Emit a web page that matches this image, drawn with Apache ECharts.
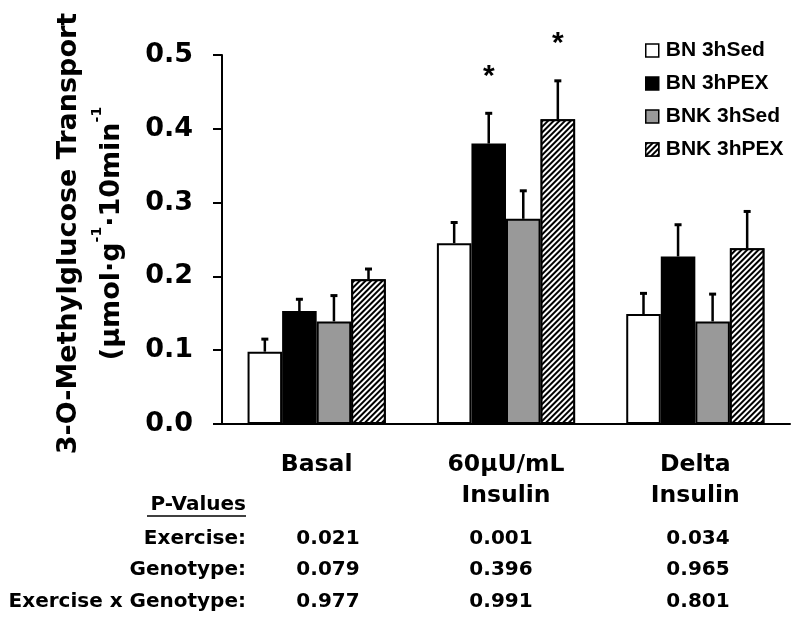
<!DOCTYPE html>
<html>
<head>
<meta charset="utf-8">
<script src="https://cdn.jsdelivr.net/npm/echarts@6/dist/echarts.min.js"></script>
<style>
html,body{margin:0;padding:0;background:#fff;}
#chart{width:800px;height:626px;}
</style>
</head>
<body>
<div id="chart"></div>
<script>
// ---- data ----
const categories = ['Basal', '60µU/mL\nInsulin', 'Delta\nInsulin'];
const seriesNames = ['BN 3hSed', 'BN 3hPEX', 'BNK 3hSed', 'BNK 3hPEX'];
const bnSed     = [0.098, 0.245, 0.149];
const bnPex     = [0.153, 0.380, 0.227];
const bnkSed    = [0.139, 0.278, 0.139];
const bnkPex    = [0.196, 0.413, 0.238];
const bnSedErr  = [0.017, 0.028, 0.028];
const bnPexErr  = [0.016, 0.041, 0.043];
const bnkSedErr = [0.035, 0.038, 0.037];
const bnkPexErr = [0.014, 0.052, 0.050];
const bnSedSig  = [0, 0, 0];
const bnPexSig  = [0, 1, 0];
const bnkSedSig = [0, 0, 0];
const bnkPexSig = [0, 1, 0];
const yTicks = [0, 0.1, 0.2, 0.3, 0.4, 0.5];
const pHeader = 'P-Values';
const pRowLabels = ['Exercise:', 'Genotype:', 'Exercise x Genotype:'];
const pBasal   = ['0.021', '0.079', '0.977'];
const pInsulin = ['0.001', '0.396', '0.991'];
const pDelta   = ['0.034', '0.965', '0.801'];

// ---- styling ----
const values = [bnSed, bnPex, bnkSed, bnkPex];
const errs = [bnSedErr, bnPexErr, bnkSedErr, bnkPexErr];
const sigs = [bnSedSig, bnPexSig, bnkSedSig, bnkPexSig];
const CAT_GAP = 0.27;
const hatch = {
  symbol: 'rect', symbolSize: 1, dashArrayX: [1, 0], dashArrayY: [1.3, 1.7],
  rotation: -Math.PI / 4, color: '#000', backgroundColor: '#fff'
};
const fills = [
  {color: '#ffffff'},
  {color: '#000000'},
  {color: '#999999'},
  {color: '#ffffff', decal: hatch}
];
const DV = '"DejaVu Sans", sans-serif';
const LS = '"Liberation Sans", Arial, sans-serif';

const barSeries = seriesNames.map((n, si) => ({
  type: 'bar', name: n, data: values[si],
  barGap: '0%', barCategoryGap: (CAT_GAP * 100) + '%',
  itemStyle: Object.assign({borderColor: '#000', borderWidth: 2}, fills[si]),
  z: 2
}));

const errSeries = seriesNames.map((n, si) => ({
  type: 'custom', name: n + ' err',
  data: values[si].map((v, i) => [i, v, errs[si][i], sigs[si][i]]),
  encode: {x: 0, y: 1},
  z: 3, clip: false, silent: true,
  renderItem: function (params, api) {
    const ci = api.value(0), v = api.value(1), e = api.value(2), s = api.value(3);
    const band = api.size([1, 0])[0];
    const bw = band * (1 - CAT_GAP) / 4;
    const cx = api.coord([ci, 0])[0] + (si - 1.5) * bw;
    const yTop = api.coord([ci, v])[1];
    const yErr = api.coord([ci, v + e])[1];
    const children = [
      {type: 'line', shape: {x1: cx, y1: yTop, x2: cx, y2: yErr}, style: {stroke: '#000', lineWidth: 2.5}},
      {type: 'rect', shape: {x: cx - 3.5, y: yErr - 1.5, width: 7, height: 3}, style: {fill: '#000'}}
    ];
    if (s) {
      children.push({type: 'text', style: {text: '*', x: cx, y: yErr - 37, align: 'center', verticalAlign: 'middle',
        font: 'bold 30px ' + LS, fill: '#000'}});
    }
    return {type: 'group', children: children};
  }
}));

// P-value table
const pCols = [pBasal, pInsulin, pDelta];
const colX = [328, 501, 698];
const rowY = [539, 570, 602];
const graphics = [];
graphics.push({type: 'text', x: 246, y: 505, style: {text: pHeader, align: 'right', verticalAlign: 'middle',
  font: 'bold 20px ' + DV, fill: '#000'}});
graphics.push({type: 'line', shape: {x1: 147, y1: 516, x2: 246, y2: 516}, style: {stroke: '#000', lineWidth: 1.5}});
pRowLabels.forEach((t, r) => {
  graphics.push({type: 'text', x: 246, y: rowY[r], style: {text: t, align: 'right', verticalAlign: 'middle',
    font: 'bold 20px ' + DV, fill: '#000'}});
  pCols.forEach((col, c) => {
    graphics.push({type: 'text', x: colX[c], y: rowY[r], style: {text: col[r], align: 'center', verticalAlign: 'middle',
      font: 'bold 20px ' + DV, fill: '#000'}});
  });
});

const chart = echarts.init(document.getElementById('chart'), null, {renderer: 'canvas'});
chart.setOption({
  animation: false,
  backgroundColor: '#fff',
  grid: {left: 222, right: 10, top: 55, bottom: 202, containLabel: false},
  legend: {
    data: seriesNames, orient: 'vertical', left: 640, top: 35,
    itemWidth: 13, itemHeight: 13, itemGap: 12, icon: 'rect',
    itemStyle: {borderWidth: 1.5, borderColor: '#000'},
    textStyle: {fontFamily: LS, fontWeight: 'bold', fontSize: 21, color: '#000', lineHeight: 21, padding: [0, 0, 0, 2]}
  },
  xAxis: {
    type: 'category', data: categories,
    axisLine: {lineStyle: {color: '#000', width: 2}},
    axisTick: {show: false},
    axisLabel: {fontFamily: DV, fontWeight: 'bold', fontSize: 23.5, color: '#000', lineHeight: 31, margin: 25, interval: 0}
  },
  yAxis: {
    type: 'value', min: yTicks[0], max: yTicks[yTicks.length - 1], interval: 0.1,
    splitLine: {show: false},
    axisLine: {show: true, lineStyle: {color: '#000', width: 2}},
    axisTick: {show: true, inside: false, length: 9, lineStyle: {color: '#000', width: 2}},
    axisLabel: {fontFamily: DV, fontWeight: 'bold', fontSize: 27, color: '#000', margin: 29,
      formatter: v => v.toFixed(1)},
    name: '{t|3-O-Methylglucose Transport}\n{t|(µmol·g}{s|-1}{t|·10min}{s|-1}',
    nameLocation: 'middle', nameRotate: 90, nameGap: 89,
    nameTextStyle: {
      padding: [0, 0, 0, 12],
      rich: {
        t: {fontFamily: DV, fontWeight: 'bold', fontSize: 27, color: '#000', lineHeight: 43},
        s: {fontFamily: DV, fontWeight: 'bold', fontSize: 14, color: '#000', lineHeight: 18, verticalAlign: 'top'}
      }
    }
  },
  series: barSeries.concat(errSeries),
  graphic: graphics
});
</script>
</body>
</html>
